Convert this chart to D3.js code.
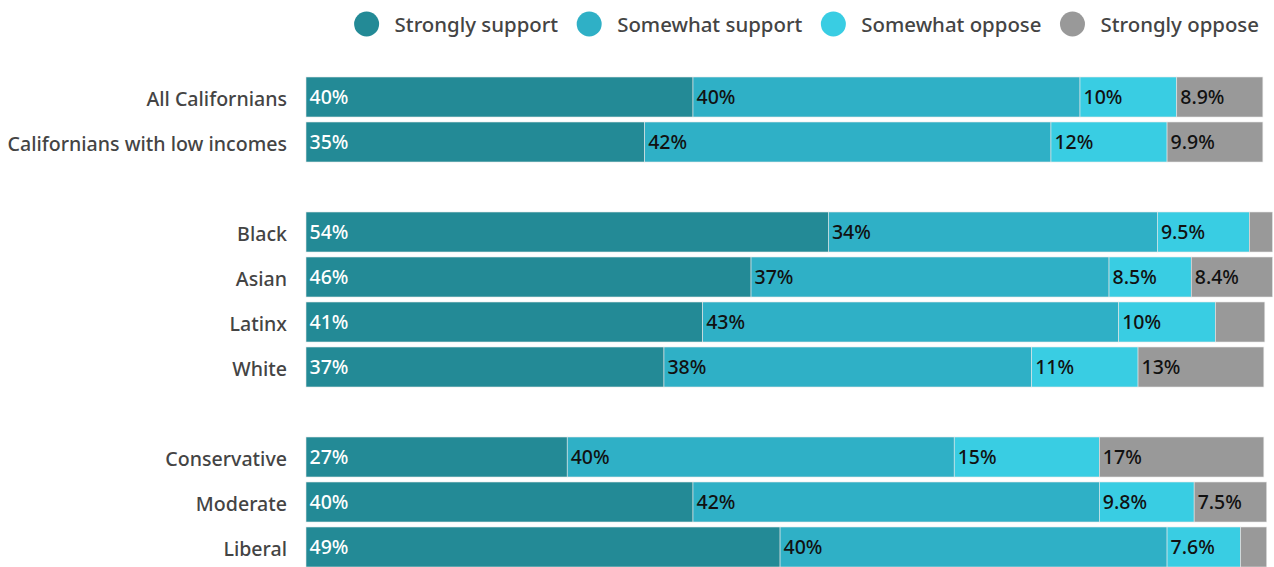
<!DOCTYPE html>
<html>
<head>
<meta charset="utf-8">
<script src="https://cdn.jsdelivr.net/npm/d3@7"></script>
<style>
  html, body { margin: 0; padding: 0; background: #fff; }
  svg { display: block; }
  text { font-family: "Noto Sans", "Open Sans", sans-serif; font-weight: 500; }
</style>
</head>
<body>
<svg id="chart" width="1274" height="567"></svg>
<script>
// ---------- Data ----------
const seriesNames = ["Strongly support", "Somewhat support", "Somewhat oppose", "Strongly oppose"];
const categories = ["All Californians", "Californians with low incomes",
                    "Black", "Asian", "Latinx", "White",
                    "Conservative", "Moderate", "Liberal"];
const groupSizes = [2, 4, 3];
const stronglySupport = [40, 35, 54, 46, 41, 37, 27, 40, 49];
const somewhatSupport = [40, 42, 34, 37, 43, 38, 40, 42, 40];
const somewhatOppose  = [10, 12, 9.5, 8.5, 10, 11, 15, 9.8, 7.6];
const stronglyOppose  = [8.9, 9.9, 2.4, 8.4, 5.1, 13, 17, 7.5, 2.7];
const colors = ["#238a96", "#2fb0c6", "#39cde3", "#999999"];

// ---------- Layout ----------
const W = 1274, H = 567;
const svg = d3.select("#chart");
const labelFont = 19.6, valueFont = 19.5, legendFont = 20.4;

// Build row domain including blank spacer rows between groups
const rowKeys = [];
let ci = 0;
groupSizes.forEach((n, g) => {
  if (g > 0) rowKeys.push("__gap" + g);
  for (let i = 0; i < n; i++) rowKeys.push(categories[ci++]);
});

const x = d3.scaleLinear().domain([0, 100]).range([306, 1273.5]);
const y = d3.scaleBand().domain(rowKeys).range([77, 567]).paddingInner(5 / 45).paddingOuter(0);

const seriesArrays = [stronglySupport, somewhatSupport, somewhatOppose, stronglyOppose];
const rows = categories.map((c, i) => {
  const r = { category: c };
  seriesNames.forEach((s, k) => r[s] = seriesArrays[k][i]);
  return r;
});
const stacked = d3.stack().keys(seriesNames)(rows);

const fmt = v => (Number.isInteger(v) ? v : v.toFixed(1)) + "%";

// Bars
const layers = svg.append("g").selectAll("g").data(stacked).join("g")
  .attr("fill", (d, i) => colors[i]);
layers.selectAll("rect").data(d => d.map(p => ({ p, key: d.key }))).join("rect")
  .attr("x", d => x(d.p[0]))
  .attr("y", d => y(d.p.data.category))
  .attr("width", d => x(d.p[1]) - x(d.p[0]))
  .attr("height", y.bandwidth())
  .attr("stroke", "#e6e6e6")
  .attr("stroke-width", 0.6);

// Value labels
stacked.forEach((layer, k) => {
  svg.append("g").selectAll("text").data(layer.filter(p => p[1] - p[0] >= 6)).join("text")
    .attr("x", p => x(p[0]) + 3.5)
    .attr("y", p => y(p.data.category) + y.bandwidth() / 2)
    .attr("dy", "0.35em")
    .attr("font-size", valueFont)
    .attr("fill", k === 0 ? "#ffffff" : "#111111")
    .text(p => fmt(p[1] - p[0]));
});

// Category labels
svg.append("g").selectAll("text").data(categories).join("text")
  .attr("x", 287)
  .attr("y", c => y(c) + y.bandwidth() / 2 + 2)
  .attr("dy", "0.35em")
  .attr("text-anchor", "end")
  .attr("font-size", labelFont)
  .attr("fill", "#444444")
  .text(c => c);

// Legend (right-aligned)
const legend = svg.append("g");
const items = legend.selectAll("g").data(seriesNames).join("g");
items.append("circle").attr("r", 12.5).attr("cy", 24).attr("fill", (d, i) => colors[i]);
items.append("text").attr("x", 28).attr("y", 25).attr("dy", "0.35em")
  .attr("font-size", legendFont).attr("fill", "#444444").text(d => d);
// measure widths and place from right
const widths = [];
items.selectAll("text").each(function () { widths.push(this.getComputedTextLength()); });
let right = 1259;
const positions = [];
for (let i = seriesNames.length - 1; i >= 0; i--) {
  const cx = right - widths[i] - 28;
  positions[i] = cx;
  right = cx - 31;
}
items.attr("transform", (d, i) => `translate(${positions[i]},0)`);
</script>
</body>
</html>
